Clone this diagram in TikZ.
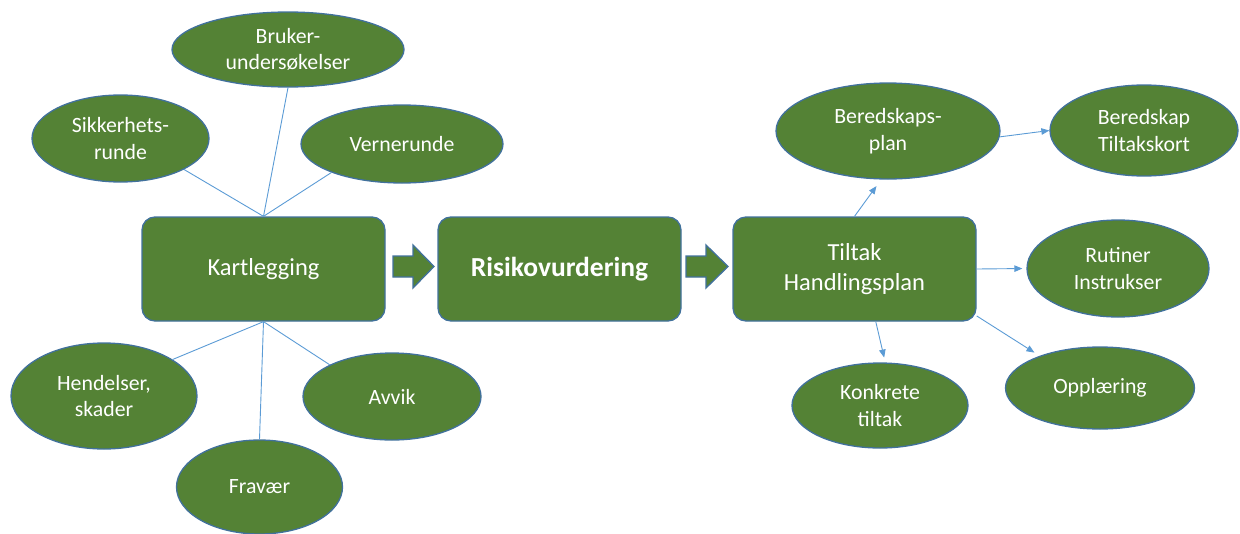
\documentclass[tikz,border=0pt]{standalone}
\usepackage{fontspec}
\setmainfont{Carlito}
\usetikzlibrary{shapes.geometric,arrows.meta}
\definecolor{fillg}{HTML}{548235}
\definecolor{edgeb}{HTML}{41719C}
\definecolor{lineb}{HTML}{5B9BD5}
\tikzset{
 mainbox/.style={rounded corners=13pt, fill=fillg, draw=edgeb, line width=1.3pt, text=white,
   minimum width=243pt, minimum height=104pt, inner sep=0pt, align=center,
   font=\fontsize{24.5}{29.5}\selectfont},
 oval/.style={ellipse, fill=fillg, draw=edgeb, line width=1.3pt, text=white, inner sep=0pt,
   align=center, font=\fontsize{21.8}{26.6}\selectfont},
 link/.style={draw=lineb, line width=0.9pt},
 flow/.style={link, -{Triangle[length=8pt,width=6.5pt]}},
 blockarrow/.style={fill=fillg, draw=edgeb, line width=1.3pt, line join=miter},
}
\begin{document}
\begin{tikzpicture}[x=1pt,y=-1pt]
\useasboundingbox (0,0) rectangle (1240,533);
% main boxes
\node[mainbox] (kart) at (263.5,269) {Kartlegging};
\node[mainbox] (risk) at (559.5,269) {\fontsize{27.5}{32}\selectfont\bfseries Risikovurdering};
\node[mainbox] (tilt) at (854.5,269) {Tiltak\\Handlingsplan};
% block arrows
\draw[blockarrow] (393,256) -- (413,256) -- (413,245) -- (434,266.5) -- (413,288) -- (413,277) -- (393,277) -- cycle;
\draw[blockarrow] (686,256) -- (706,256) -- (706,245) -- (728,266.5) -- (706,288) -- (706,277) -- (686,277) -- cycle;
% left ovals
\node[oval, minimum width=232pt, minimum height=75pt] (bruk) at (288,49.5) {Bruker-\\undersøkelser};
\node[oval, minimum width=177pt, minimum height=87pt] (sikk) at (120.5,138.5) {Sikkerhets-\\runde};
\node[oval, minimum width=202pt, minimum height=78pt] (vern) at (402,144) {Vernerunde};
\node[oval, minimum width=186pt, minimum height=106pt] (hend) at (104,396) {Hendelser,\\skader};
\node[oval, minimum width=166pt, minimum height=94pt] (frav) at (259.5,487) {Fravær};
\node[oval, minimum width=178pt, minimum height=87pt] (avvk) at (392,396.5) {Avvik};
% right ovals
\node[oval, minimum width=224pt, minimum height=96pt] (bered) at (888,131) {Beredskaps-\\plan};
\node[oval, minimum width=188pt, minimum height=91pt] (tiltk) at (1144,130.5) {Beredskap\\Tiltakskort};
\node[oval, minimum width=182pt, minimum height=97pt] (rut) at (1118,268.5) {Rutiner\\Instrukser};
\node[oval, minimum width=176pt, minimum height=85pt] (konk) at (880,405.5) {Konkrete\\tiltak};
\node[oval, minimum width=189pt, minimum height=82pt] (opp) at (1100,388) {Opplæring};
% plain links
\draw[link] (kart.north) -- (bruk.south);
\draw[link] (kart.north) -- (sikk.334);
\draw[link] (kart.north) -- (vern.202);
\draw[link] (kart.south) -- (hend.28.5);
\draw[link] (kart.south) -- (frav.north);
\draw[link] (kart.south) -- (avvk.153);
% arrows
\draw[flow, shorten >=8pt] (tilt.north) -- (bered.262);
\draw[flow] (bered.357) -- (tiltk.west);
\draw[flow, shorten >=4pt] (tilt.east) -- (rut.west);
\draw[flow, shorten >=5pt] (tilt.292) -- (konk.83);
\draw[flow, shorten >=6pt] (tilt.339) -- (opp.152);
\end{tikzpicture}
\end{document}
